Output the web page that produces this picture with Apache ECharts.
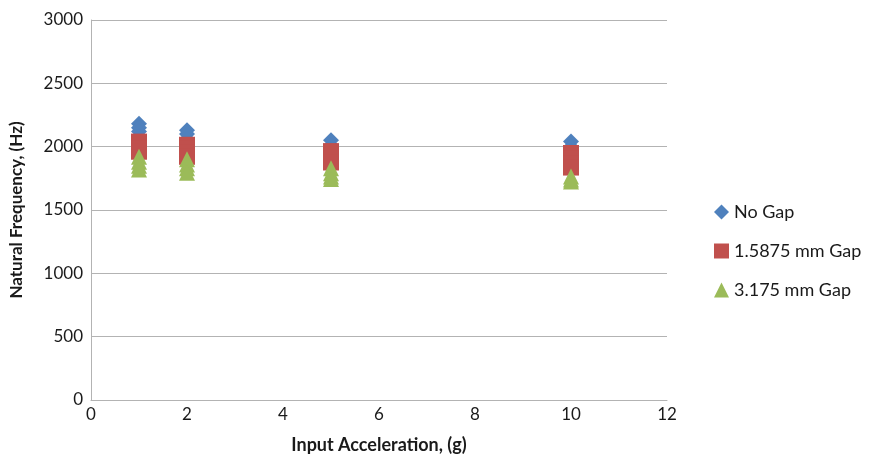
<!DOCTYPE html>
<html>
<head>
<meta charset="utf-8">
<script src="https://cdn.jsdelivr.net/npm/echarts@6/dist/echarts.min.js"></script>
<style>
  html, body { margin: 0; padding: 0; background: #fff; }
  #chart { width: 875px; height: 459px; }
</style>
</head>
<body>
<div id="chart"></div>
<script>
// values, [acceleration g, frequency Hz]
var noGap = [
    [1, 2180], [1, 2150], [1, 2120], [1, 2080], [1, 2040],
    [2, 2130], [2, 2100], [2, 2060], [2, 2020],
    [5, 2050], [5, 2010], [5, 1970],
    [10, 2040], [10, 2000], [10, 1960]
];
var gap15875 = [
    [1, 2040], [1, 2010], [1, 1985], [1, 1960],
    [2, 2015], [2, 1985], [2, 1955], [2, 1920],
    [5, 1965], [5, 1935], [5, 1905], [5, 1875],
    [10, 1950], [10, 1910], [10, 1870], [10, 1835]
];
var gap3175 = [
    [1, 1920], [1, 1880], [1, 1850], [1, 1820],
    [2, 1900], [2, 1860], [2, 1830], [2, 1795],
    [5, 1830], [5, 1790], [5, 1765], [5, 1745],
    [10, 1765], [10, 1740], [10, 1725]
];
var seriesNames = ['No Gap', '1.5875 mm Gap', '3.175 mm Gap'];

var myChart = echarts.init(document.getElementById('chart'));
var font = 'Lato, "Open Sans", sans-serif';
var gridColor = '#b3b3b3';

myChart.setOption({
    animation: false,
    color: ['#4f81bd', '#c0504d', '#9bbb59'],
    grid: { left: 91, right: 208, top: 20, bottom: 58 },
    legend: {
        orient: 'vertical',
        left: 709,
        top: 198,
        itemWidth: 15,
        itemHeight: 15,
        itemGap: 21,
        textStyle: { fontFamily: font, fontSize: 18, color: '#1a1a1a' },
        data: [
            { name: seriesNames[0], icon: 'diamond' },
            { name: seriesNames[1], icon: 'rect' },
            { name: seriesNames[2], icon: 'triangle' }
        ]
    },
    xAxis: {
        type: 'value',
        min: 0, max: 12, interval: 2,
        name: 'Input Acceleration, (g)',
        nameLocation: 'middle',
        nameGap: 36,
        nameTextStyle: { fontFamily: font, fontSize: 18, fontWeight: 'bold', color: '#1a1a1a' },
        axisLine: { lineStyle: { color: gridColor, width: 1 } },
        axisTick: { show: false },
        axisLabel: { fontFamily: font, fontSize: 17, color: '#1a1a1a', margin: 6 },
        splitLine: { show: false }
    },
    yAxis: {
        type: 'value',
        min: 0, max: 3000, interval: 500,
        name: 'Natural Frequency, (Hz)',
        nameLocation: 'middle',
        nameGap: 66,
        nameTextStyle: { fontFamily: font, fontSize: 17, fontWeight: 'bold', color: '#1a1a1a' },
        axisLine: { show: true, lineStyle: { color: gridColor, width: 1 } },
        axisTick: { show: false },
        axisLabel: {
            fontFamily: font, fontSize: 17, color: '#1a1a1a', margin: 8,
            formatter: function (v) { return String(v); }
        },
        splitLine: { show: true, lineStyle: { color: gridColor, width: 1, type: 'solid' } }
    },
    series: [
        { name: seriesNames[0], type: 'scatter', symbol: 'diamond', symbolSize: 16, itemStyle: { opacity: 1 }, data: noGap },
        { name: seriesNames[1], type: 'scatter', symbol: 'rect', symbolSize: 16, itemStyle: { opacity: 1 }, data: gap15875 },
        { name: seriesNames[2], type: 'scatter', symbol: 'triangle', symbolSize: 16, itemStyle: { opacity: 1 }, data: gap3175 }
    ]
});
</script>
</body>
</html>
